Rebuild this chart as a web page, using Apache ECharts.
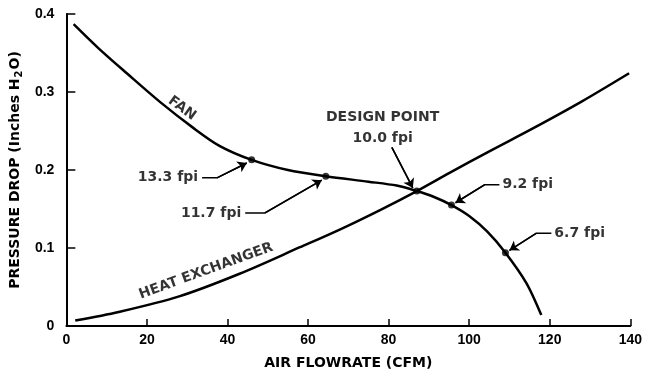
<!DOCTYPE html>
<html>
<head>
<meta charset="utf-8">
<script src="https://cdn.jsdelivr.net/npm/echarts@6/dist/echarts.min.js"></script>
<style>
  html, body { margin: 0; padding: 0; background: #fff; }
  #chart { width: 645px; height: 379px; }
</style>
</head>
<body>
<div id="chart"></div>
<script>
// fan curve (air flowrate CFM, pressure drop in. H2O)
const fanFlow = [1.8, 8, 15, 23.3, 31.5, 38, 46.0, 55, 64.4, 75, 82, 87, 91, 95.6, 100, 104.5, 109, 114.2, 117.9];
const fanDrop = [0.387, 0.356, 0.324, 0.287, 0.254, 0.231, 0.213, 0.200, 0.192, 0.185, 0.180, 0.173, 0.166, 0.155, 0.141, 0.121, 0.094, 0.055, 0.014];

// heat exchanger curve
const heatFlow = [2.2, 13, 28, 43, 58, 68, 78, 87, 95, 105, 115.7, 128, 139.7];
const heatDrop = [0.007, 0.018, 0.038, 0.067, 0.101, 0.124, 0.149, 0.173, 0.196, 0.224, 0.253, 0.288, 0.324];

// fin density points on the fan curve
const ratingNames = ['13.3 fpi', '11.7 fpi', '10.0 fpi', '9.2 fpi', '6.7 fpi'];
const ratingFlow = [46.0, 64.4, 87, 95.6, 109];
const ratingDrop = [0.213, 0.192, 0.173, 0.155, 0.094];

// leader lines (data coords), text sits at the first point
const leaderPaths = [
  [[33.7, 0.190], [37.4, 0.190], [44.8, 0.209]],
  [[44.4, 0.145], [49.3, 0.145], [63.4, 0.187]],
  [[80.8, 0.229], [86.0, 0.177]],
  [[107.5, 0.181], [103.8, 0.181], [96.6, 0.158]],
  [[120.4, 0.119], [116.7, 0.119], [110.0, 0.097]]
];

const curveNames = ['FAN', 'HEAT EXCHANGER'];
const curveNameAt = [[28.7, 0.279], [34.7, 0.0705]];

let myChart = echarts.init(document.getElementById('chart'));

const fontT = 'DejaVu Sans';
const fontN = 'Liberation Sans';

let textStyle = { color: '#000', fontFamily: fontT, fontWeight: 'bold', fontSize: 14 };

// labels for the fpi notes
let noteData = ratingNames.map((n, i) => {
  let p = leaderPaths[i][0];
  let lab = { show: true, formatter: n, position: 'left', distance: 4 };
  if (i === 2) {
    lab = { show: true, formatter: 'DESIGN POINT\n' + n, position: 'top', distance: 2, lineHeight: 21, align: 'center' };
    p = [78.5, 0.225];
  } else if (i >= 3) {
    lab.position = 'right';
    lab.distance = 3;
  }
  return { value: p, label: Object.assign({}, textStyle, lab) };
});

let curveLabelData = curveNames.map((n, i) => ({
  value: curveNameAt[i],
  label: Object.assign({}, textStyle, {
    show: true, formatter: n, position: 'inside',
    rotate: i === 0 ? -36 : 20
  })
}));

// last segment of each leader carries the arrow head
let arrowSegs = leaderPaths.map(p => ({ coords: [p[p.length - 2], p[p.length - 1]] }));

let option = {
  backgroundColor: '#fff',
  animation: false,
  grid: { left: 66, right: 14, top: 14, bottom: 53, containLabel: false },
  xAxis: {
    type: 'value',
    min: 0, max: 140, interval: 20,
    name: 'AIR FLOWRATE (CFM)',
    nameLocation: 'middle',
    nameGap: 30,
    nameTextStyle: textStyle,
    axisLine: { lineStyle: { color: '#000', width: 2 } },
    axisTick: { inside: true, length: 7, lineStyle: { color: '#000', width: 1.5 } },
    axisLabel: { color: '#000', fontFamily: fontN, fontWeight: 'bold', fontSize: 14, margin: 7 },
    splitLine: { show: false }
  },
  yAxis: {
    type: 'value',
    min: 0, max: 0.4, interval: 0.1,
    name: 'PRESSURE DROP (Inches H{sub|2}O)',
    nameLocation: 'middle',
    nameGap: 42,
    nameRotate: 90,
    nameTextStyle: Object.assign({}, textStyle, {
      rich: {
        sub: { fontFamily: fontT, fontWeight: 'bold', fontSize: 10, color: '#000', verticalAlign: 'bottom', padding: [8, 1, 0, 1] }
      }
    }),
    axisLine: { show: true, lineStyle: { color: '#000', width: 2 } },
    axisTick: { show: true, inside: true, length: 9, lineStyle: { color: '#000', width: 1.5 } },
    axisLabel: {
      color: '#000', fontFamily: fontN, fontWeight: 'bold', fontSize: 14, margin: 12,
      formatter: (v) => v === 0 ? '0' : v.toFixed(1)
    },
    splitLine: { show: false }
  },
  series: [
    {
      name: 'Fan',
      type: 'line',
      smooth: 0.3,
      symbol: 'none',
      lineStyle: { color: '#000', width: 2.5 },
      data: fanFlow.map((x, i) => [x, fanDrop[i]])
    },
    {
      name: 'Heat exchanger',
      type: 'line',
      smooth: 0.3,
      symbol: 'none',
      lineStyle: { color: '#000', width: 2.5 },
      data: heatFlow.map((x, i) => [x, heatDrop[i]])
    },
    {
      name: 'leaders',
      type: 'lines',
      coordinateSystem: 'cartesian2d',
      polyline: true,
      lineStyle: { color: '#000', width: 1.5, opacity: 1 },
      data: leaderPaths.map(p => ({ coords: p }))
    },
    {
      name: 'arrows',
      type: 'lines',
      coordinateSystem: 'cartesian2d',
      symbol: ['none', 'arrow'],
      symbolSize: [0, 9],
      lineStyle: { color: '#000', width: 1.5, opacity: 1 },
      data: arrowSegs
    },
    {
      name: 'ratings',
      type: 'scatter',
      symbol: 'circle',
      symbolSize: 7,
      itemStyle: { color: '#000' },
      data: ratingFlow.map((x, i) => [x, ratingDrop[i]])
    },
    {
      name: 'notes',
      type: 'scatter',
      symbolSize: 0,
      silent: true,
      data: noteData.concat(curveLabelData)
    }
  ]
};

myChart.setOption(option, true);
</script>
</body>
</html>
